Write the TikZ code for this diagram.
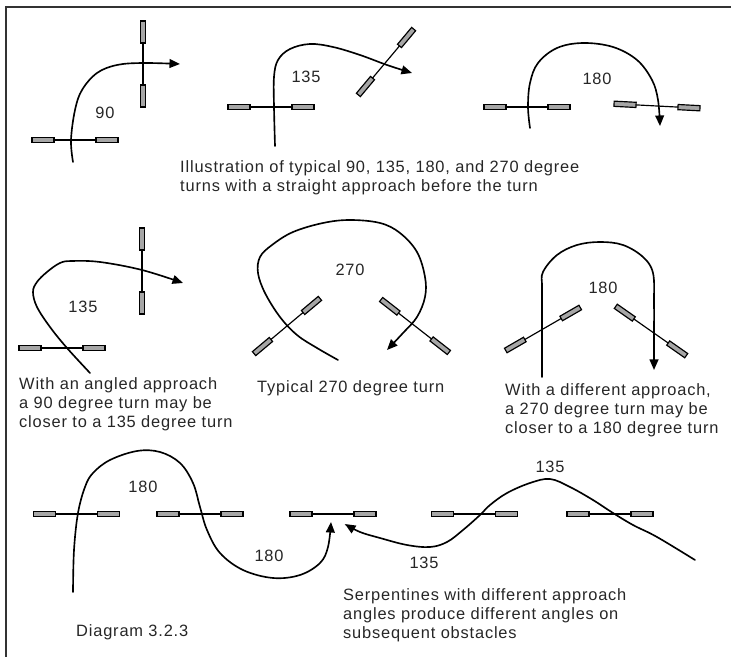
\documentclass[tikz,border=0pt]{standalone}
\usepackage{fontspec}
\setmainfont{Liberation Sans}[LetterSpace=5]
\usetikzlibrary{arrows.meta}
\begin{document}
\begin{tikzpicture}[x=0.3mm, y=-0.3mm,
  path/.style={line width=1.4pt, line cap=round},
  arrow/.style={-{Triangle[length=9pt,width=7.5pt]}},
  post/.style={draw, line width=1pt, fill=black!35},
  gate/.pic={
    \draw[line width=1pt] (-21,0) -- (21,0);
    \draw[post] (-43,-2.6) rectangle (-21,2.6);
    \draw[post] (21,-2.6) rectangle (43,2.6);
  },
  lbl/.style={inner sep=0pt, text=black!85, font=\fontsize{14pt}{16.2pt}\selectfont},
  caption/.style={lbl, anchor=west, align=left}
]
\useasboundingbox (0,0) rectangle (731,657);
\draw[line width=1.6pt, black!80] (6,657) -- (6,7) -- (731,7);

\pic at (75,140) {gate};
\pic[rotate=90] at (143,64) {gate};
\draw[path, arrow] plot[smooth, tension=0.6] coordinates {(73,162) (71,140) (75,110) (82,90) (97,73) (117,65) (143,63) (180,64)};
\node[lbl] (t90) at (105,113) {90};

\pic at (271,107) {gate};
\pic[rotate=50] at (386,62) {gate};
\draw[path, arrow] plot[smooth, tension=0.6] coordinates {(275,146) (274,107) (274,77) (278,60) (290,49) (310,44) (333,47) (360,55) (387,65) (412,73)};
\node[lbl] (t135) at (306,77) {135};

\pic at (527,107) {gate};
\pic[rotate=-3] at (657,106) {gate};
\draw[path, arrow] plot[smooth, tension=0.6] coordinates {(530,128) (528,107) (530,83) (538,63) (557,48) (583,43) (613,47) (637,60) (652,80) (658,100) (660,126)};
\node[lbl] (t180) at (597,79) {180};

\node[caption] (straight) at (180,177.5) {Illustration of typical 90, 135, 180, and 270 degree\\turns with a straight approach before the turn};

\pic at (62,348) {gate};
\pic[rotate=90] at (142,271) {gate};
\draw[path, arrow] plot[smooth, tension=0.6] coordinates {(90,373) (67,348) (50,327) (37,307) (33,292) (37,282) (47,272) (60,263) (72,261) (100,262) (142,270) (183,283)};
\node[lbl] (a135) at (83,307) {135};
\node[caption] (angled) at (19,404) {With an angled approach\\a 90 degree turn may be\\closer to a 135 degree turn};

\pic[rotate=40] at (287,326) {gate};
\pic[rotate=-38] at (415,326) {gate};
\draw[path, arrow] plot[smooth, tension=0.6] coordinates {(338,360) (317,348) (297,335) (280,317) (265,293) (258,273) (260,257) (272,245) (293,232) (323,223) (350,220) (380,223) (400,233) (417,252) (425,277) (425,297) (417,317) (403,333) (387,350)};
\node[lbl] (t270) at (350,270) {270};
\node[caption] (typical) at (257,388) {Typical 270 degree turn};

\pic[rotate=30] at (543,329) {gate};
\pic[rotate=-35] at (651,331) {gate};
\draw[path, arrow] plot[smooth, tension=0.6] coordinates {(542,377) (542,320) (542,287) (543,272) (557,255) (577,245) (600,242) (623,245) (643,257) (653,273) (654,303) (654,337) (654,370)};
\node[lbl] (d180) at (603,288) {180};
\node[caption] (different) at (505,410) {With a different approach,\\a 270 degree turn may be\\closer to a 180 degree turn};

\foreach \gx in {76.5,200,333,474.5,610}
  \pic at (\gx,514) {gate};
\draw[path, arrow] plot[smooth, tension=0.6] coordinates {(73,592) (74,550) (78,513) (85,487) (93,473) (110,460) (137,451) (160,452) (180,463) (193,483) (200,507) (207,530) (220,553) (243,570) (273,578) (300,575) (320,563) (328,547) (331,522)};
\draw[path, arrow] plot[smooth, tension=0.6] coordinates {(695,560) (657,537) (633,525) (613,513) (593,500) (570,487) (550,479) (530,483) (507,493) (490,505) (480,515) (463,530) (447,542) (430,547) (407,545) (380,538) (360,532) (345,524)};
\node[lbl] (s180a) at (143,487) {180};
\node[lbl] (s180b) at (269,556) {180};
\node[lbl] (s135a) at (550,467) {135};
\node[lbl] (s135b) at (424,563) {135};
\node[caption] (serpent) at (343,615) {Serpentines with different approach\\angles produce different angles on\\subsequent obstacles};
\node[caption] (diagram) at (76,632) {Diagram 3.2.3};
\end{tikzpicture}
\end{document}
